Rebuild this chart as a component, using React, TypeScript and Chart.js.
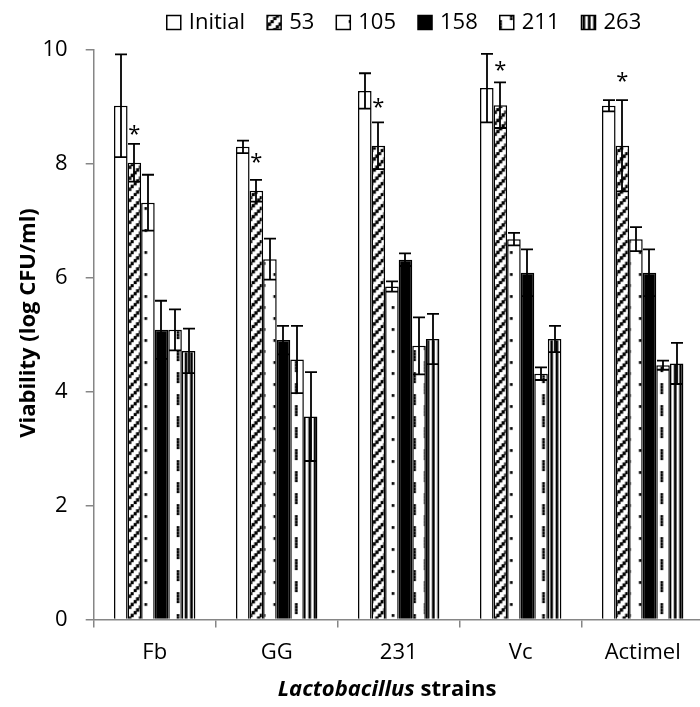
import React, { useEffect, useRef } from "react";
import { Chart, registerables } from "chart.js";

Chart.register(...registerables);

// ---------------- data ----------------
const categories = ["Fb", "GG", "231", "Vc", "Actimel"];
const seriesNames = ["Initial", "53", "105", "158", "211", "263"];

const initialVals = [9.01, 8.29, 9.27, 9.32, 9.01];
const initialErr = [0.9, 0.11, 0.31, 0.6, 0.1];
const d53Vals = [8.01, 7.52, 8.31, 9.02, 8.31];
const d53Err = [0.33, 0.19, 0.41, 0.4, 0.8];
const d105Vals = [7.31, 6.32, 5.84, 6.67, 6.67];
const d105Err = [0.49, 0.36, 0.09, 0.11, 0.21];
const d158Vals = [5.08, 4.9, 6.31, 6.08, 6.08];
const d158Err = [0.51, 0.25, 0.11, 0.41, 0.41];
const d211Vals = [5.08, 4.56, 4.8, 4.31, 4.46];
const d211Err = [0.36, 0.59, 0.5, 0.11, 0.08];
const d263Vals = [4.71, 3.56, 4.92, 4.92, 4.49];
const d263Err = [0.39, 0.78, 0.44, 0.23, 0.36];

// asterisks drawn above the "53" bars (value positions)
const asteriskVals = [8.58, 8.09, 9.06, 9.7, 9.51];

const yMin = 0;
const yMax = 10;
const yStep = 2;

const xTitleItalic = "Lactobacillus";
const xTitleRest = " strains";
const yTitle = "Viability (log CFU/ml)";

const FONT = "'Open Sans', 'Noto Sans', sans-serif";

// ---------------- patterns (Excel-like bitmaps, scaled) ----------------
type Kind = "diag" | "dots" | "dash" | "vert";

function makePattern(kind: Kind): CanvasPattern | string {
  const W = 43;
  const H = 44;
  const sx = W / 16;
  const sy = H / 16;
  const c = document.createElement("canvas");
  c.width = W;
  c.height = H;
  const g = c.getContext("2d");
  if (!g) return "#fff";
  g.fillStyle = "#fff";
  g.fillRect(0, 0, W, H);
  g.fillStyle = "#000";
  const px = (x: number, y: number, ext = 0) => {
    g.fillRect(x * sx - ext, y * sy - ext, sx + 2 * ext, sy + 2 * ext);
  };
  if (kind === "diag") {
    for (let y = 0; y < 16; y++) {
      for (let x = 0; x < 16; x++) {
        if ((x + y) % 4 === 3) px(x, y, 0.35);
      }
    }
  } else if (kind === "dots") {
    const pts = [
      [0, 0], [8, 0], [0, 8], [8, 8],
      [4, 4], [12, 4], [4, 12], [12, 12],
    ];
    pts.forEach(([x, y]) => px(x, y));
  } else if (kind === "dash") {
    for (let t = 0; t < 2; t++) {
      for (let u = 0; u < 2; u++) {
        for (let r = 0; r < 4; r++) {
          px(t * 8 + 0, u * 8 + r);
          px(t * 8 + 4, u * 8 + 4 + r);
        }
      }
    }
  } else if (kind === "vert") {
    for (let x = 1; x < 16; x += 2) {
      g.fillRect(x * sx, 0, sx, H);
    }
  }
  const ctx = document.createElement("canvas").getContext("2d");
  if (!ctx) return "#fff";
  const p = ctx.createPattern(c, "repeat");
  if (!p) return "#fff";
  try {
    p.setTransform(new DOMMatrix([1, 0, 0, 1, 4.66, 20.1]));
  } catch (e) {
    /* ignore */
  }
  return p;
}

export default function App() {
  const ref = useRef<HTMLCanvasElement | null>(null);

  useEffect(() => {
    if (!ref.current) return;

    const fills: (CanvasPattern | string)[] = [
      "#ffffff",
      makePattern("diag"),
      makePattern("dots"),
      "#000000",
      makePattern("dash"),
      makePattern("vert"),
    ];
    const values = [initialVals, d53Vals, d105Vals, d158Vals, d211Vals, d263Vals];
    const errors = [initialErr, d53Err, d105Err, d158Err, d211Err, d263Err];

    const errorBars = {
      id: "errorBars",
      afterDatasetsDraw(chart: any) {
        const ctx = chart.ctx;
        const ys = chart.scales.y;
        ctx.save();
        ctx.strokeStyle = "#000";
        ctx.lineWidth = 1.8;
        values.forEach((vals, i) => {
          const meta = chart.getDatasetMeta(i);
          vals.forEach((v, j) => {
            const el = meta.data[j];
            if (!el) return;
            const e = errors[i][j];
            const x = Math.round(el.x);
            const yt = ys.getPixelForValue(v + e);
            const yb = ys.getPixelForValue(v - e);
            ctx.beginPath();
            ctx.moveTo(x, yt);
            ctx.lineTo(x, yb);
            ctx.moveTo(x - 6, yt);
            ctx.lineTo(x + 6, yt);
            ctx.moveTo(x - 6, yb);
            ctx.lineTo(x + 6, yb);
            ctx.stroke();
          });
        });
        // asterisks over the 53 series
        const meta53 = chart.getDatasetMeta(1);
        ctx.fillStyle = "#000";
        ctx.font = `22px ${FONT}`;
        ctx.textAlign = "center";
        ctx.textBaseline = "alphabetic";
        const m = ctx.measureText("*");
        const asc = m.actualBoundingBoxAscent;
        const desc = m.actualBoundingBoxDescent;
        asteriskVals.forEach((v, j) => {
          const el = meta53.data[j];
          if (!el) return;
          const cy = ys.getPixelForValue(v);
          ctx.fillText("*", el.x, cy + (asc - desc) / 2);
        });
        ctx.restore();
      },
    };

    const decorations = {
      id: "decorations",
      afterDraw(chart: any) {
        const ctx = chart.ctx;
        ctx.save();
        // legend
        ctx.font = `22px ${FONT}`;
        ctx.textBaseline = "middle";
        ctx.textAlign = "left";
        const box = 14;
        const gap = 8;
        const spacing = 22;
        const widths = seriesNames.map((s) => ctx.measureText(s).width);
        const total =
          widths.reduce((a, w) => a + box + gap + w, 0) + spacing * (seriesNames.length - 1);
        let x = 404 - total / 2;
        const by = 15.5;
        seriesNames.forEach((s, i) => {
          ctx.fillStyle = fills[i] as any;
          ctx.fillRect(x, by, box, box);
          ctx.strokeStyle = "#000";
          ctx.lineWidth = 1.5;
          ctx.strokeRect(x, by, box, box);
          ctx.fillStyle = "#000";
          ctx.fillText(s, x + box + gap, by + box / 2 + 0.5);
          x += box + gap + widths[i] + spacing;
        });

        // y axis title
        ctx.save();
        ctx.translate(29, 323);
        ctx.rotate(-Math.PI / 2);
        ctx.font = `bold 22px ${FONT}`;
        ctx.textAlign = "center";
        ctx.textBaseline = "middle";
        ctx.fillStyle = "#000";
        ctx.fillText(yTitle, 0, 0);
        ctx.restore();

        // x axis title (mixed italic / regular bold)
        const fItal = `italic bold 22px ${FONT}`;
        const fBold = `bold 22px ${FONT}`;
        ctx.font = fItal;
        const w1 = ctx.measureText(xTitleItalic).width;
        ctx.font = fBold;
        const w2 = ctx.measureText(xTitleRest).width;
        const cx = 387;
        const ty = 690;
        const tx = cx - (w1 + w2) / 2;
        ctx.textAlign = "left";
        ctx.textBaseline = "middle";
        ctx.fillStyle = "#000";
        ctx.font = fItal;
        ctx.fillText(xTitleItalic, tx, ty);
        ctx.font = fBold;
        ctx.fillText(xTitleRest, tx + w1, ty);
        ctx.restore();
      },
    };

    const chart = new Chart(ref.current, {
      type: "bar",
      data: {
        labels: categories,
        datasets: seriesNames.map((name, i) => ({
          label: name,
          data: values[i],
          backgroundColor: fills[i] as any,
          borderColor: "#000",
          borderWidth: 1.5,
          categoryPercentage: 0.667,
          barPercentage: 1.0,
        })),
      },
      options: {
        animation: false,
        responsive: true,
        maintainAspectRatio: false,
        layout: { padding: { top: 49.3, right: 6.3, bottom: 0, left: 0 } },
        plugins: {
          legend: { display: false },
          tooltip: { enabled: false },
          title: { display: false },
        },
        scales: {
          x: {
            type: "category",
            grid: {
              display: true,
              drawOnChartArea: false,
              drawTicks: true,
              tickLength: 8,
              color: "#868686",
              lineWidth: 1.5,
              offset: true,
            },
            border: { display: true, color: "#868686", width: 1.5 },
            ticks: {
              color: "#000",
              font: { family: FONT, size: 22 },
              padding: 12,
              maxRotation: 0,
              autoSkip: false,
            },
            afterFit: (s: any) => {
              s.height = 707 - 619.5;
            },
          },
          y: {
            min: yMin,
            max: yMax,
            grid: {
              display: true,
              drawOnChartArea: false,
              drawTicks: true,
              tickLength: 8,
              color: "#868686",
              lineWidth: 1.5,
            },
            border: { display: true, color: "#868686", width: 1.5 },
            ticks: {
              stepSize: yStep,
              color: "#000",
              font: { family: FONT, size: 22 },
              padding: 18,
            },
            afterFit: (s: any) => {
              s.width = 93.7;
            },
          },
        },
      },
      plugins: [errorBars, decorations],
    });

    return () => chart.destroy();
  }, []);

  return (
    <div
      style={{
        position: "absolute",
        left: 0,
        top: 0,
        width: 700,
        height: 707,
        overflow: "hidden",
        background: "#fff",
      }}
    >
      <div style={{ position: "relative", width: 710, height: 707 }}>
        <canvas ref={ref} />
      </div>
    </div>
  );
}
